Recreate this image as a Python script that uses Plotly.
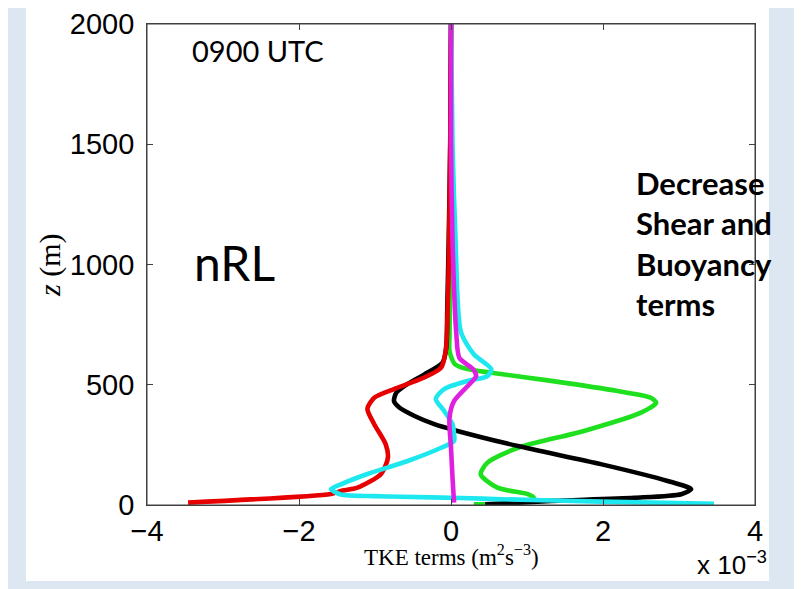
import plotly.graph_objects as go

# ---- data (TKE terms in units of 1e-3 m^2 s^-3, height z in m) ----
black_x = [0.0, -0.01, -0.03, -0.05, -0.06, -0.11, -0.35, -0.61, -0.72, -0.75, -0.68, -0.48, -0.22, 0.06, 0.88, 1.97, 2.85, 3.16, 3.03, 2.41, 1.32, 0.66, 0.45]
black_z = [2000, 1500, 1100, 800, 660, 592, 543, 495, 467, 432, 405, 370, 336, 310, 245, 170, 100, 66, 45, 30, 17, 6, 3]

red_x = [0.0, -0.01, -0.03, -0.05, -0.07, -0.13, -0.36, -0.75, -1.01, -1.10, -1.01, -0.86, -0.83, -0.92, -1.23, -1.45, -1.58, -3.46]
red_z = [2000, 1500, 1000, 750, 640, 571, 529, 482, 446, 400, 336, 253, 197, 129, 72, 58, 46, 10]

green_x = [0.0, 0.0, -0.01, -0.02, -0.02, 0.05, 0.22, 0.53, 1.32, 2.19, 2.63, 2.70, 2.50, 1.75, 0.88, 0.48, 0.39, 0.61, 1.01, 1.09, 1.05, 0.8, 0.3]
green_z = [2000, 1500, 1000, 700, 640, 586, 565, 550, 516, 474, 446, 425, 384, 308, 238, 176, 128, 72, 45, 30, 20, 6, 3]

cyan_x = [0.0, 0.02, 0.06, 0.13, 0.30, 0.53, 0.48, 0.22, -0.09, -0.20, -0.09, 0.02, 0.04, 0.04, -0.13, -0.57, -1.10, -1.45, -1.58, -1.45, -1.01, -0.66, 0.13, 0.66, 1.97, 3.46]
cyan_z = [2000, 1500, 1100, 720, 627, 565, 536, 516, 482, 441, 391, 336, 295, 266, 238, 183, 129, 86, 66, 44, 37, 34, 29, 24, 14, 5]

magenta_x = [0.0, 0.0, 0.02, 0.07, 0.11, 0.29, 0.33, 0.22, 0.04, -0.02, 0.0, 0.02, 0.04]
magenta_z = [2000, 1500, 1100, 711, 612, 565, 536, 495, 432, 363, 238, 113, 10]

x_ticks = [-4, -2, 0, 2, 4]
y_ticks = [0, 500, 1000, 1500, 2000]

series = [
    (green_x, green_z, "#1ee01e"),
    (black_x, black_z, "#000000"),
    (red_x, red_z, "#e60000"),
    (cyan_x, cyan_z, "#1ee8ef"),
    (magenta_x, magenta_z, "#e020e0"),
]

fig = go.Figure()
for xs, zs, col in series:
    fig.add_trace(go.Scatter(x=xs, y=zs, mode="lines",
                             line=dict(color=col, width=4.6, shape="spline", smoothing=0.7),
                             showlegend=False, hoverinfo="skip", cliponaxis=True))

W, H = 802, 589
PW, PH = 608, 481
L, T = 139, 16
R, B = W - L - PW, H - T - PH

def px(dx):
    # pixel offset from left axis -> paper x
    return dx / PW

def py(dy):
    # pixel offset below top axis -> paper y
    return 1 - dy / PH

tickfont = dict(family="Liberation Sans, Arial, sans-serif", size=29, color="#000000")
axis_common = dict(showgrid=False, zeroline=False, showline=True, linecolor="#404040", linewidth=1,
                   mirror="ticks", ticks="inside", ticklen=6, tickcolor="#404040", tickfont=tickfont,
                   automargin=False, ticklabeloverflow="allow")

fig.update_xaxes(range=[-4, 4], tickvals=x_ticks, ticktext=[("−" + str(-v)) if v < 0 else str(v) for v in x_ticks], **axis_common)
fig.update_yaxes(range=[0, 2000], tickvals=y_ticks, ticktext=[str(v) + "\u2009" for v in y_ticks], **axis_common)

# white slide panel
fig.add_shape(type="rect", xref="paper", yref="paper",
              x0=px(-121), x1=px(PW + 14), y0=py(PH + 76), y1=py(-20),
              fillcolor="#ffffff", line=dict(width=0), layer="below")
# plot frame
fig.add_shape(type="rect", xref="paper", yref="paper", x0=0, x1=1, y0=0, y1=1,
              line=dict(color="#404040", width=1), layer="above")

ann = []
ann.append(dict(text="0900 UTC", x=px(111), y=py(26), font=dict(family="Lato, sans-serif", size=29, color="#000")))
ann.append(dict(text="nRL", x=px(87), y=py(238), font=dict(family="Lato, sans-serif", size=48, color="#000")))
ann.append(dict(text="<b>Decrease<br>Shear and<br>Buoyancy<br>terms</b>", x=px(487), y=py(219), xanchor="left", align="left",
                font=dict(family="Lato, sans-serif", size=31, color="#000")))
ann.append(dict(text="TKE terms (m<sup>2</sup>s<sup>−3</sup>)", x=px(304), y=py(PH + 50),
                font=dict(family="Liberation Serif, serif", size=23, color="#000")))
ann.append(dict(text="<i>z</i> (m)", x=px(-97), y=py(241), textangle=-90,
                font=dict(family="Liberation Serif, serif", size=30, color="#000")))
ann.append(dict(text="x 10<sup>−3</sup>", x=px(585), y=py(PH + 58),
                font=dict(family="Liberation Sans, Arial, sans-serif", size=26, color="#000")))
for a in ann:
    a.setdefault("xanchor", "center")
    a.setdefault("yanchor", "middle")
    fig.add_annotation(xref="paper", yref="paper", showarrow=False, **a)

fig.update_layout(width=W, height=H, margin=dict(l=L, r=R, t=T, b=B),
                  paper_bgcolor="#dde7f1", plot_bgcolor="#ffffff")

fig.write_html("out.html")
